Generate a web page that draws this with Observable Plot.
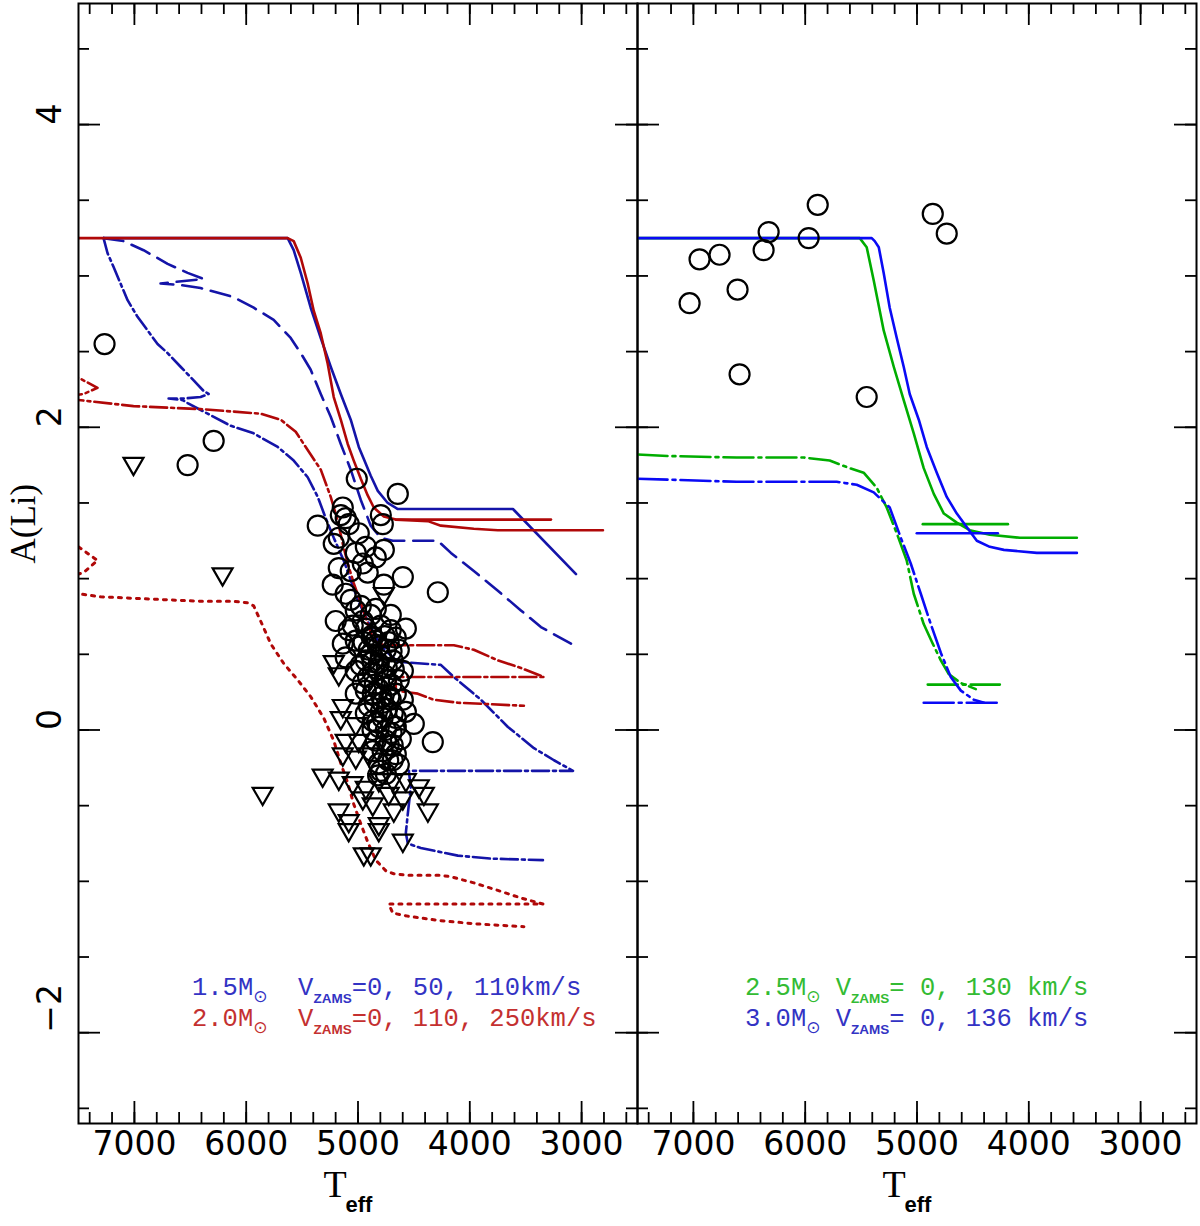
<!DOCTYPE html>
<html lang="en">
<head>
<meta charset="UTF-8">
<title>A(Li) versus Teff</title>
<style>
  body { margin: 0; background: #fff; }
  #chart { display: flex; width: 1200px; height: 1226px; }
  #chart svg { overflow: visible; flex: none; }
</style>
</head>
<body>
<div id="chart"></div>
<script src="https://cdn.jsdelivr.net/npm/d3@7"></script>
<script src="https://cdn.jsdelivr.net/npm/@observablehq/plot@0.6"></script>
<script>
// model tracks: each is a list of segments of [Teff, A(Li)]
const m15v0 = [[
  [7276,3.25],[5629,3.25],[5575,3.17],[5512,3.02],[5423,2.79],[5333,2.59],[5244,2.40],[5154,2.22],
  [5065,2.05],[4993,1.87],[4948,1.79],[4886,1.68],[4823,1.58],[4734,1.50],[4644,1.46],[3614,1.46],[3050,1.03]
]];
const m15v50 = [[
  [7276,3.25],[7097,3.23],[6918,3.17],[6703,3.08],[6524,3.02],[6381,2.98],[6766,2.95],[6587,2.94],
  [6408,2.92],[6112,2.86],[5933,2.79],[5754,2.71],[5602,2.59],[5512,2.49],[5423,2.38],[5333,2.22],
  [5244,2.07],[5154,1.89],[5065,1.72],[4975,1.52],[4886,1.35],[4796,1.27],[4689,1.25],[4286,1.25],
  [4169,1.17],[3964,1.05],[3749,0.92],[3543,0.79],[3364,0.68],[3095,0.57]
]];
const m15v110 = [[
  [7276,3.25],[7240,3.15],[7187,3.06],[7124,2.95],[7061,2.84],[6972,2.73],[6882,2.64],[6793,2.55],
  [6703,2.49],[6587,2.40],[6470,2.31],[6381,2.24],[6336,2.22],[6408,2.20],[6560,2.19],[6694,2.19],
  [6569,2.18],[6524,2.16],[6345,2.09],[6139,2.01],[5933,1.96],[5718,1.87],[5575,1.78],[5450,1.67],
  [5360,1.54],[5289,1.40],[5217,1.27],[5128,1.12],[5065,0.99],[5002,0.86],[4913,0.72],[4823,0.59],
  [4734,0.51],[4644,0.45],[4259,0.43],[4143,0.35],[3901,0.20],[3659,0.02],[3426,-0.12],[3247,-0.20],
  [3077,-0.27],[4545,-0.27],[4528,-0.38],[4554,-0.55],[4572,-0.68],[4554,-0.75],[4438,-0.78],
  [4107,-0.83],[3811,-0.85],[3346,-0.86]
]];
const m20v0 = [[
  [7600,3.25],[5629,3.25],[5575,3.23],[5512,3.12],[5450,2.95],[5396,2.77],[5333,2.62],[5271,2.42],
  [5217,2.20],[5154,2.05],[5092,1.89],[5038,1.78],[4975,1.66],[4913,1.55],[4859,1.47],[4769,1.41],
  [4662,1.39],[4375,1.38],[4259,1.35],[3964,1.33],[3749,1.32],[2809,1.32]
], [
  [4662,1.39],[3274,1.39]
]];
const m20v110 = [[
  [7650,2.36],[7480,2.32],[7330,2.26],[7455,2.22],[7650,2.20],[7650,2.18],[7500,2.18],[7008,2.14],
  [6408,2.12],[5871,2.09],[5691,2.05],[5557,1.97],[5450,1.85],[5333,1.72],[5244,1.54],[5181,1.38],
  [5136,1.23],[5092,1.10],[5038,0.97],[4975,0.84],[4913,0.70],[4859,0.59],[4769,0.56],[4143,0.56],
  [3964,0.53],[3749,0.46],[3543,0.41],[3337,0.35],[4662,0.35],[4662,0.26],[4465,0.24],[4322,0.20],
  [4107,0.18],[3811,0.17],[3516,0.16]
]];
const m20v250 = [[
  [7650,1.25],[7500,1.21],[7330,1.12],[7455,1.04],[7650,1.00],[7650,0.91],[7500,0.90],[7303,0.88],
  [7008,0.87],[6703,0.86],[6408,0.85],[6112,0.85],[5987,0.84],[5933,0.82],[5871,0.72],[5781,0.57],
  [5665,0.44],[5539,0.33],[5423,0.22],[5307,0.08],[5217,-0.07],[5154,-0.22],[5092,-0.35],[5038,-0.49],
  [4975,-0.62],[4913,-0.74],[4841,-0.86],[4751,-0.93],[4680,-0.95],[4554,-0.96],[4259,-0.96],
  [4169,-0.97],[3964,-1.01],[3749,-1.06],[3543,-1.11],[3346,-1.15],[4725,-1.15],[4689,-1.21],
  [4554,-1.23],[4259,-1.26],[3964,-1.28],[3516,-1.30]
]];
const m25v0 = [[
  [7500,3.25],[5512,3.25],[5450,3.19],[5387,2.97],[5298,2.64],[5208,2.40],[5119,2.18],[5029,1.96],
  [4940,1.73],[4850,1.56],[4760,1.43],[4644,1.37],[4528,1.32],[4349,1.29],[4080,1.27],[3570,1.27]
], [
  [4948,1.36],[4187,1.36]
]];
const m30v0 = [[
  [7500,3.25],[5405,3.25],[5378,3.23],[5342,3.19],[5298,3.02],[5244,2.79],[5181,2.59],[5119,2.40],
  [5065,2.22],[4984,2.05],[4913,1.87],[4823,1.70],[4734,1.54],[4644,1.43],[4554,1.34],[4465,1.25],
  [4349,1.21],[4223,1.19],[3928,1.17],[3570,1.17]
], [
  [5002,1.30],[4277,1.30]
]];
const m25v130 = [[
  [7500,1.82],[7213,1.81],[6614,1.80],[6014,1.80],[5781,1.78],[5602,1.73],[5477,1.70],[5360,1.60],
  [5271,1.47],[5181,1.30],[5092,1.12],[5029,0.90],[4940,0.70],[4859,0.57],[4787,0.46],[4716,0.37],
  [4608,0.31],[4474,0.27]
], [
  [4904,0.30],[4259,0.30]
]];
const m30v136 = [[
  [7500,1.66],[6614,1.64],[6014,1.64],[5718,1.64],[5539,1.62],[5387,1.57],[5244,1.47],[5145,1.27],
  [5056,1.10],[4966,0.90],[4877,0.70],[4787,0.51],[4698,0.35],[4608,0.26],[4492,0.20],[4400,0.18]
], [
  [4940,0.18],[4277,0.18]
]];

// observed stars: detections (circles) and upper limits (triangles)
const leftCircles = [
  [7267,2.55],[6524,1.75],[6291,1.91],
  [5011,1.66],[4644,1.56],[5136,1.47],[5154,1.42],[5110,1.40],[5360,1.35],[5083,1.36],[4796,1.42],
  [4778,1.36],[5172,1.27],[4993,1.30],[5217,1.23],[4930,1.21],[4769,1.19],[5020,1.17],[4841,1.14],
  [5172,1.07],[4957,1.10],[5065,1.05],[4913,1.04],[4599,1.01],[5226,0.96],[4769,0.96],[5110,0.90],
  [4286,0.91],[5020,0.79],[4841,0.80],[4707,0.76],[5199,0.72],[4957,0.72],[5083,0.66],[4572,0.67],
  [4662,0.61],[5136,0.57],[4868,0.61],[4993,0.55],[4751,0.53],[5110,0.48],[4930,0.46],[4599,0.39],
  [4814,0.44],[5020,0.39],[4751,0.33],[4957,0.31],[4868,0.24],[4662,0.24],[5020,0.24],[4778,0.18],
  [4689,0.11],[4930,0.11],[4501,0.04],[4814,0.02],[4662,0.02],[4331,-0.08],[4751,-0.07],[4868,-0.14],
  [4662,-0.16],[4814,-0.22],[4751,-0.29],
  [5065,0.86],[4975,0.82],[4886,0.76],[4796,0.69],[4707,0.66],[5047,0.69],[4930,0.67],[4841,0.59],
  [4725,0.58],[4635,0.53],[5020,0.59],[4904,0.53],[4796,0.49],[4689,0.46],[4975,0.43],[4868,0.38],
  [4743,0.41],[4635,0.33],[4930,0.26],[4814,0.27],[4707,0.20],[4599,0.20],[4904,0.16],[4796,0.12],
  [4662,0.08],[4572,0.12],[4868,0.06],[4751,0.00],[4617,-0.06],[4725,-0.10],[4841,-0.07],[4689,-0.20],
  [4796,-0.27],[4635,-0.23],
  [4886,0.50],[4760,0.36],[4850,0.30],[4700,0.30],[4790,0.22],[4870,0.45],[4740,0.14],[4830,0.05],
  [4700,-0.02],[4780,-0.14],[4880,0.62],[4760,0.62],[4820,0.40],[4680,0.40],
  [4910,0.35],[4850,0.18],[4720,0.22],[4780,0.08],[4870,0.00],[4730,-0.20],[4820,-0.30],[4690,-0.10],
  [4950,0.58],[4820,0.55],[4700,0.52]
];
const leftTriangles = [
  [7008,1.76],[6211,1.03],[5853,-0.42],[5217,0.45],[5172,0.37],[5136,0.16],[5154,0.08],[5020,0.04],
  [5110,-0.07],[4993,-0.07],[5136,-0.16],[5020,-0.18],[4904,-0.16],[5316,-0.30],[5172,-0.32],
  [5047,-0.35],[4930,-0.38],[4814,-0.33],[4689,-0.33],[4572,-0.33],[4456,-0.37],[4725,-0.42],
  [4599,-0.45],[4411,-0.42],[4957,-0.45],[4868,-0.49],[5172,-0.53],[5083,-0.60],[4680,-0.53],
  [4375,-0.53],[4814,-0.62],[5083,-0.66],[4814,-0.66],[4599,-0.73],[4948,-0.82],[4886,-0.82],[4769,0.90]
];
const rightCircles = [
  [7034,2.82],[6945,3.11],[6766,3.14],[6605,2.91],[6587,2.35],[6372,3.17],[6327,3.29],[5969,3.25],
  [5888,3.47],[5450,2.20],[4859,3.41],[4734,3.28]
];

// axes
const xMajor = [7000, 6000, 5000, 4000, 3000];
const xMinor = d3.range(2600, 7500, 200);
const yMajor = [-2, 0, 2, 4];
const yMinor = d3.range(-2.5, 4.8, 0.5);

// legends
const leftLegend = [
  {mass: "1.5", gap: "  V", vel: "=0, 50, 110km/s", color: "#3333c4"},
  {mass: "2.0", gap: "  V", vel: "=0, 110, 250km/s", color: "#c43030"}
];
const rightLegend = [
  {mass: "2.5", gap: " V", vel: "= 0, 130 km/s", color: "#33bb33"},
  {mass: "3.0", gap: " V", vel: "= 0, 136 km/s", color: "#3333c4"}
];

const darkBlue = "#1414a8", darkRed = "#b00808", blue = "#0a0af5", green = "#00ad00";
const solid = null, dashed = "20,9", dashDot = "17,4,3,4", dotted = "3,6", dashDotR = "30,5,3,5";

const H = 1226, MT = 3, MB = 103, FW = 559, FH = H - MT - MB;

function rows(segs) {
  return segs.flatMap((seg, i) => seg.map(([T, A]) => ({T, A, seg: i})));
}

function panel({width, marginLeft, marginRight, tracks, circles, triangles, yLabels}) {
  const marks = [];
  for (const t of tracks) {
    marks.push(Plot.line(rows(t.segs), {
      x: "T", y: "A", z: "seg", stroke: t.color, strokeWidth: t.dash === dotted ? 3 : 2.6,
      strokeDasharray: t.dash, clip: true
    }));
  }
  marks.push(Plot.dot(circles, {x: d => d[0], y: d => d[1], r: 10, stroke: "black", strokeWidth: 2.2, fill: "none", clip: true}));
  if (triangles) {
    marks.push(Plot.dot(triangles, {x: d => d[0], y: d => d[1], symbol: "triangle", rotate: 180, r: 7.4, stroke: "black", strokeWidth: 2.2, fill: "none", clip: true}));
  }
  const tick = {stroke: "black", strokeWidth: 1.8};
  marks.push(
    Plot.ruleX(xMinor, {x: d => d, insetTop: FH - 11, ...tick}),
    Plot.ruleX(xMinor, {x: d => d, insetBottom: FH - 11, ...tick}),
    Plot.ruleX(xMajor, {x: d => d, insetTop: FH - 22, ...tick}),
    Plot.ruleX(xMajor, {x: d => d, insetBottom: FH - 22, ...tick}),
    Plot.ruleY(yMinor, {y: d => d, insetRight: FW - 11, ...tick}),
    Plot.ruleY(yMinor, {y: d => d, insetLeft: FW - 11, ...tick}),
    Plot.ruleY(yMajor, {y: d => d, insetRight: FW - 22, ...tick}),
    Plot.ruleY(yMajor, {y: d => d, insetLeft: FW - 22, ...tick}),
    Plot.frame({stroke: "black", strokeWidth: 2}),
    Plot.text(xMajor, {x: d => d, text: d => String(d), frameAnchor: "bottom", dy: 31,
      fontSize: 33, fontFamily: "DejaVu Sans", fill: "black"}),
    Plot.text(["T"], {text: d => d, frameAnchor: "bottom", dx: -23, dy: 73,
      fontSize: 38, fontFamily: "Liberation Serif", fill: "black"}),
    Plot.text(["eff"], {text: d => d, frameAnchor: "bottom", dx: 1, dy: 88,
      fontSize: 22, fontWeight: "bold", fontFamily: "Liberation Sans", fill: "black"})
  );
  if (yLabels) {
    marks.push(
      Plot.text(yMajor, {y: d => d, text: d => d < 0 ? "\u2212" + (-d) : String(d), frameAnchor: "left",
        dx: -28, rotate: -90, fontSize: 33, fontFamily: "DejaVu Sans", fill: "black"}),
      Plot.text(["A(Li)"], {text: d => d, frameAnchor: "left", dx: -55, rotate: -90,
        fontSize: 35, fontFamily: "Liberation Serif", fill: "black"})
    );
  }
  return Plot.plot({
    width, height: H, marginLeft, marginRight, marginTop: MT, marginBottom: MB,
    style: "background: transparent; overflow: visible;",
    x: {domain: [7500, 2500], axis: null},
    y: {domain: [-2.6, 4.8], axis: null},
    marks
  });
}

function addLegend(svg, x, entries) {
  const sel = d3.select(svg);
  entries.forEach((e, i) => {
    const t = sel.append("text")
      .attr("x", x).attr("y", 995 + i * 31)
      .attr("text-anchor", "start")
      .attr("fill", e.color)
      .style("white-space", "pre")
      .attr("font-family", "Liberation Mono")
      .attr("font-size", 25.5);
    t.append("tspan").text(e.mass + "M");
    t.append("tspan").attr("dy", 7).attr("font-family", "DejaVu Sans").attr("font-size", 17).text("\u2299");
    t.append("tspan").attr("dy", -7).text(e.gap);
    t.append("tspan").attr("dy", 8).attr("font-family", "Liberation Sans").attr("font-weight", "bold")
      .attr("font-size", 13.5).text("ZAMS");
    t.append("tspan").attr("dy", -8).text(e.vel);
  });
}

const left = panel({
  width: 637, marginLeft: 78, marginRight: 0, yLabels: true,
  tracks: [
    {segs: m15v0, color: darkBlue, dash: solid},
    {segs: m15v50, color: darkBlue, dash: dashed},
    {segs: m15v110, color: darkBlue, dash: dashDot},
    {segs: m20v0, color: darkRed, dash: solid},
    {segs: m20v110, color: darkRed, dash: dashDot},
    {segs: m20v250, color: darkRed, dash: dotted}
  ],
  circles: leftCircles, triangles: leftTriangles
});
const right = panel({
  width: 563, marginLeft: 0, marginRight: 4, yLabels: false,
  tracks: [
    {segs: m25v0, color: green, dash: solid},
    {segs: m25v130, color: green, dash: dashDotR},
    {segs: m30v0, color: blue, dash: solid},
    {segs: m30v136, color: blue, dash: dashDotR}
  ],
  circles: rightCircles
});
addLegend(left, 192, leftLegend);
addLegend(right, 108, rightLegend);
document.getElementById("chart").append(left, right);
</script>
</body>
</html>
